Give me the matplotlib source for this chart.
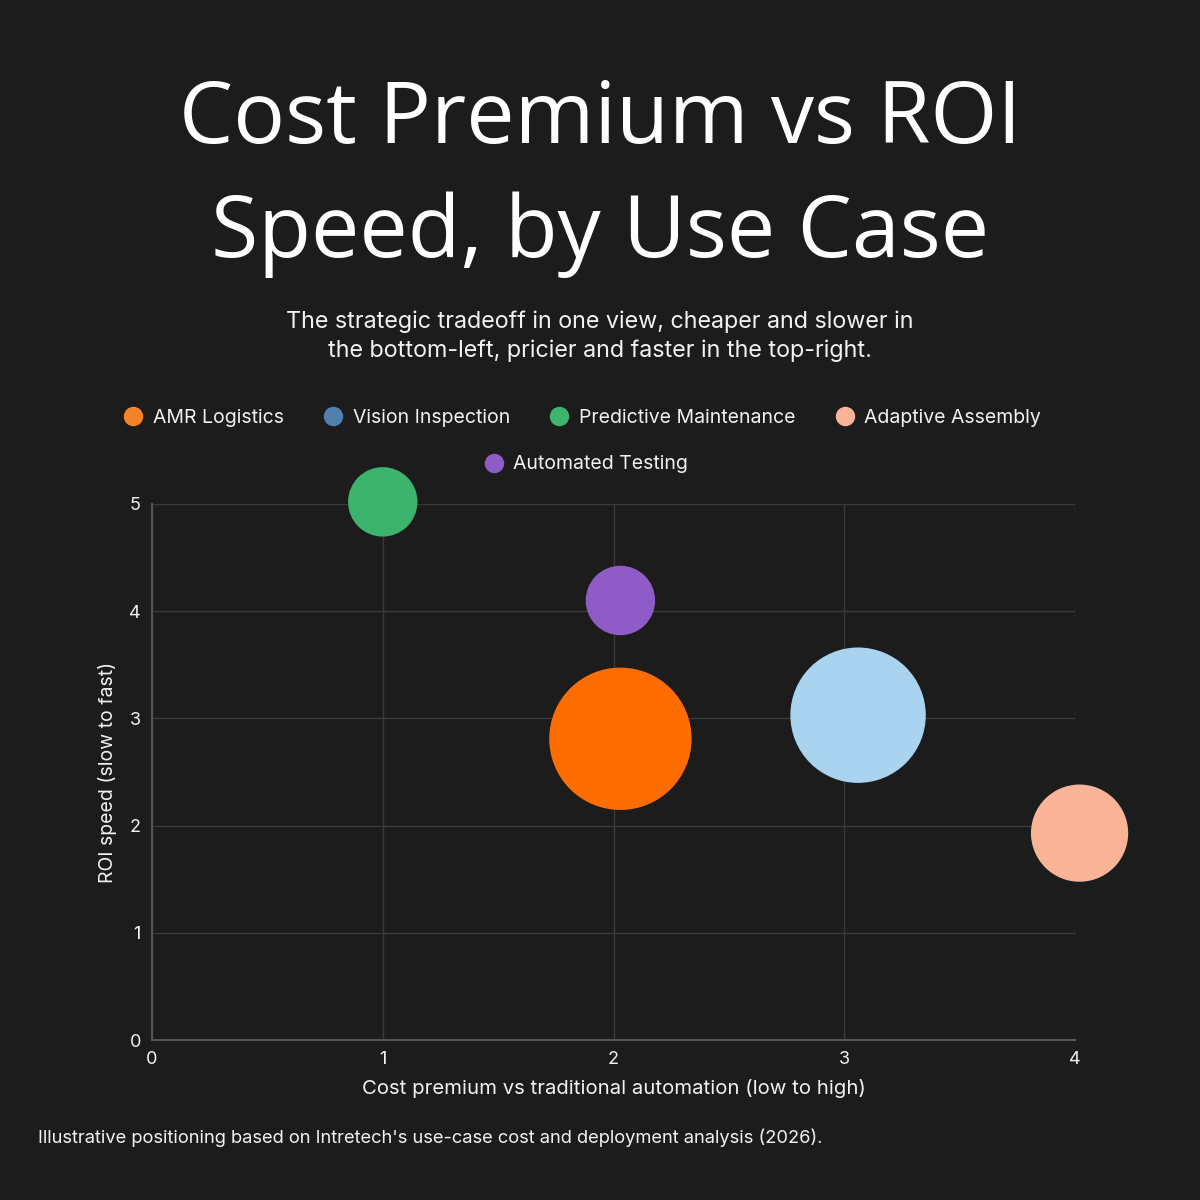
import matplotlib
matplotlib.use("Agg")
import matplotlib.pyplot as plt
from matplotlib.lines import Line2D

# ---- data -------------------------------------------------------------
use_cases = ["AMR Logistics", "Vision Inspection", "Predictive Maintenance",
             "Adaptive Assembly", "Automated Testing"]
cost_premium = [2.03, 3.06, 1.0, 4.02, 2.03]
roi_speed = [2.81, 3.03, 5.02, 1.93, 4.10]
bubble_size = [4.1, 3.9, 2.0, 2.8, 2.0]   # relative bubble diameter

bubble_colors = ["#ff6d00", "#a9d3ef", "#3cb46e", "#f9b498", "#8f5bc6"]
legend_colors = ["#f5832a", "#4f7fad", "#3cb46e", "#f9b498", "#8f5bc6"]

x_ticks = [0, 1, 2, 3, 4]
y_ticks = [0, 1, 2, 3, 4, 5]

BG = "#1c1c1c"
TEXT = "#f2f2f2"
GRID = "#3a3a3a"
HEAD_FONT = "Open Sans"
BODY_FONT = "Inter"

plt.rcParams.update({"font.family": BODY_FONT})

fig = plt.figure(figsize=(12, 12), dpi=100, facecolor=BG)
ax = fig.add_axes([0.1267, 0.1333, 0.7691, 0.4467], facecolor=BG)

# bubbles: diameter in points = size * 25
sizes = [(s * 25.0) ** 2 for s in bubble_size]
ax.scatter(cost_premium, roi_speed, s=sizes, c=bubble_colors,
           edgecolors="none", zorder=3, clip_on=False)

ax.set_xlim(0, 4)
ax.set_ylim(0, 5)
ax.set_xticks(x_ticks)
ax.set_yticks(y_ticks)
ax.tick_params(length=0, colors=TEXT, labelsize=13, pad=8)
ax.grid(True, color=GRID, linewidth=1, zorder=0)
ax.set_axisbelow(True)
for side in ("top", "right"):
    ax.spines[side].set_visible(False)
for side in ("left", "bottom"):
    ax.spines[side].set_color("#555555")
    ax.spines[side].set_linewidth(1.5)

ax.set_xlabel("Cost premium vs traditional automation (low to high)",
              color=TEXT, fontsize=14.6, labelpad=8)
ax.set_ylabel("ROI speed (slow to fast)", color=TEXT, fontsize=14,
              labelpad=9)

# ---- title / subtitle ---------------------------------------------------
fig.text(0.5, 0.899, "Cost Premium vs ROI", ha="center", va="center",
         family=HEAD_FONT, fontsize=62, color="white")
fig.text(0.5, 0.804, "Speed, by Use Case", ha="center", va="center",
         family=HEAD_FONT, fontsize=62, color="white")
fig.text(0.5, 0.72, "The strategic tradeoff in one view, cheaper and slower in\n"
         "the bottom-left, pricier and faster in the top-right.",
         ha="center", va="center", fontsize=16.8, color=TEXT, linespacing=1.35)

# ---- legend: 4 on first row, 1 centered on second ----------------------
handles = [Line2D([], [], marker="o", linestyle="none", markersize=14,
                  markerfacecolor=c, markeredgecolor="none")
           for c in legend_colors]
leg_kw = dict(frameon=False, fontsize=14, labelcolor=TEXT, handlelength=1.3,
              handletextpad=0.35, columnspacing=1.9, loc="center")
fig.legend(handles[:4], use_cases[:4], ncol=4,
           bbox_to_anchor=(0.484, 0.652), **leg_kw)
fig.legend(handles[4:], use_cases[4:], ncol=1,
           bbox_to_anchor=(0.487, 0.613), **leg_kw)

# ---- footer -------------------------------------------------------------
fig.text(0.032, 0.052,
         "Illustrative positioning based on Intretech's use-case cost and "
         "deployment analysis (2026).",
         ha="left", va="center", fontsize=13.2, color=TEXT)

fig.savefig("out.png", dpi=100, facecolor=BG)
